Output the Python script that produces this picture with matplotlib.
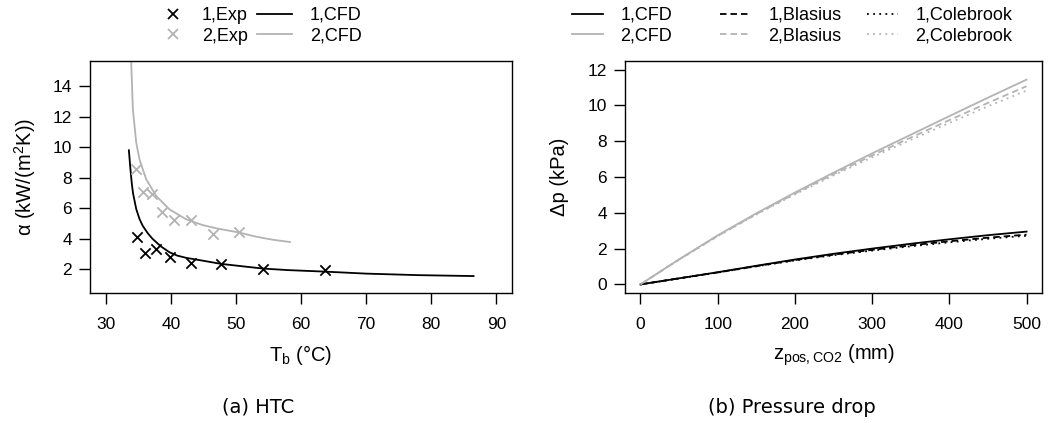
import numpy as np
import matplotlib.pyplot as plt
from matplotlib.lines import Line2D
from matplotlib.legend import Legend

plt.rcParams['font.family'] = ['Liberation Sans', 'DejaVu Sans']
plt.rcParams['mathtext.fontset'] = 'custom'
plt.rcParams['mathtext.rm'] = 'Liberation Sans'
plt.rcParams['mathtext.it'] = 'Liberation Sans'

grey = '#b3b3b3'

# (a) HTC - experiments
t_exp1 = [34.85, 36.08, 37.71, 39.96, 43.18, 47.72, 54.16, 63.66]
a_exp1 = [4.12, 3.09, 3.31, 2.81, 2.42, 2.33, 2.00, 1.96]
t_exp2 = [34.70, 35.72, 37.05, 38.63, 40.52, 43.13, 46.45, 50.43]
a_exp2 = [8.60, 7.07, 6.92, 5.78, 5.21, 5.21, 4.30, 4.47]

# (a) HTC - CFD
t_cfd1 = [33.57, 33.8, 34.0, 34.2, 34.7, 35.2, 35.7, 36.5, 37.2, 38.5, 39.8,
          41.0, 42.4, 44.9, 47.7, 51.0, 54.2, 58.0, 63.7, 70.0, 78.0, 86.5]
a_cfd1 = [9.80, 8.60, 7.70, 7.00, 5.95, 5.30, 4.85, 4.35, 4.00, 3.50, 3.12,
          2.90, 2.75, 2.57, 2.36, 2.20, 2.05, 1.95, 1.85, 1.72, 1.62, 1.56]
t_cfd2 = [33.85, 33.93, 34.18, 34.7, 35.2, 36.23, 37.76, 39.8, 42.36, 44.9,
          47.2, 50.4, 53.0, 55.5, 58.3]
a_cfd2 = [15.9, 15.5, 12.5, 10.3, 9.2, 7.9, 6.81, 5.93, 5.28, 4.90,
          4.67, 4.42, 4.15, 3.95, 3.79]

# (b) pressure drop
z = [0, 50, 100, 150, 200, 250, 300, 350, 400, 450, 500]
dp_cfd1 = [0, 0.34, 0.68, 1.04, 1.39, 1.71, 2.00, 2.27, 2.52, 2.75, 2.95]
dp_bla1 = [0, 0.34, 0.67, 1.02, 1.36, 1.66, 1.93, 2.18, 2.41, 2.61, 2.78]
dp_col1 = [0, 0.33, 0.66, 1.01, 1.34, 1.63, 1.89, 2.13, 2.35, 2.55, 2.72]
dp_cfd2 = [0, 1.40, 2.74, 3.97, 5.13, 6.24, 7.32, 8.36, 9.40, 10.43, 11.44]
dp_bla2 = [0, 1.39, 2.71, 3.93, 5.07, 6.16, 7.20, 8.20, 9.18, 10.14, 11.07]
dp_col2 = [0, 1.38, 2.69, 3.90, 5.03, 6.09, 7.10, 8.07, 9.02, 9.95, 10.83]

W, H = 1049, 423
fig = plt.figure(figsize=(W / 100, H / 100), dpi=100)
ax1 = fig.add_axes([90 / W, 1 - 293 / H, 422 / W, 232 / H])
ax2 = fig.add_axes([625 / W, 1 - 293 / H, 417 / W, 232 / H])

lw = 1.3
dash = (0, (3.6, 2.2))
dot = (0, (1, 2.4))

ax1.plot(t_cfd1, a_cfd1, color='black', lw=lw)
ax1.plot(t_cfd2, a_cfd2, color=grey, lw=lw)
ax1.scatter(t_exp1, a_exp1, marker='x', color='black', s=55, lw=1.3, zorder=3)
ax1.scatter(t_exp2, a_exp2, marker='x', color=grey, s=55, lw=1.3, zorder=3)
ax1.set_xlim(27.6, 92.4)
ax1.set_ylim(0.45, 15.65)
ax1.set_xticks(range(30, 91, 10))
ax1.set_yticks(range(2, 15, 2))
ax1.set_xlabel('T$_\\mathrm{b}$ (°C)', fontsize=14.5)
ax1.set_ylabel('α (kW/(m$^\\mathrm{2}$K))', fontsize=14.5)

ax2.plot(z, dp_cfd1, color='black', lw=lw)
ax2.plot(z, dp_cfd2, color=grey, lw=lw)
ax2.plot(z, dp_bla1, color='black', lw=lw, ls=dash)
ax2.plot(z, dp_bla2, color=grey, lw=lw, ls=dash)
ax2.plot(z, dp_col1, color='black', lw=lw, ls=dot)
ax2.plot(z, dp_col2, color=grey, lw=lw, ls=dot)
ax2.set_xlim(-20, 520)
ax2.set_ylim(-0.48, 12.48)
ax2.set_xticks(range(0, 501, 100))
ax2.set_yticks(range(0, 13, 2))
ax2.set_xlabel('z$_\\mathrm{pos,CO2}$ (mm)', fontsize=14.5)
ax2.set_ylabel('Δp (kPa)', fontsize=14.5)

ax1.xaxis.set_label_coords(0.5, -0.215)
ax2.xaxis.set_label_coords(0.5, -0.215)
ax1.yaxis.set_label_coords(-0.124, 0.5)
ax2.yaxis.set_label_coords(-0.135, 0.5)

for ax in (ax1, ax2):
    ax.tick_params(direction='out', length=8, width=1, labelsize=12.5)
    ax.tick_params(axis='x', pad=9)
    ax.tick_params(axis='y', pad=5)
    for s in ax.spines.values():
        s.set_linewidth(1)


def legend_col(ax, handles, labels, x_px, hl, pad):
    leg = Legend(ax, handles, labels, frameon=False, loc='upper left',
                 bbox_to_anchor=(x_px / W, 1 - 7 / H),
                 bbox_transform=fig.transFigure, fontsize=13,
                 handlelength=hl, handletextpad=pad, labelspacing=0.2,
                 borderpad=0, borderaxespad=0)
    ax.add_artist(leg)


mk = dict(ls='none', marker='x', ms=7, mew=1.3)
legend_col(ax1, [Line2D([], [], color='black', **mk), Line2D([], [], color=grey, **mk)],
           ['1,Exp', '2,Exp'], 155, 1.94, 0.65)
legend_col(ax1, [Line2D([], [], color='black', lw=lw), Line2D([], [], color=grey, lw=lw)],
           ['1,CFD', '2,CFD'], 257, 1.94, 1.0)
legend_col(ax2, [Line2D([], [], color='black', lw=lw), Line2D([], [], color=grey, lw=lw)],
           ['1,CFD', '2,CFD'], 572, 1.72, 0.95)
legend_col(ax2, [Line2D([], [], color='black', lw=lw, ls=dash),
                 Line2D([], [], color=grey, lw=lw, ls=dash)],
           ['1,Blasius', '2,Blasius'], 720, 1.72, 0.95)
legend_col(ax2, [Line2D([], [], color='black', lw=lw, ls=dot),
                 Line2D([], [], color=grey, lw=lw, ls=dot)],
           ['1,Colebrook', '2,Colebrook'], 867, 1.72, 0.95)

fig.text(258 / W, 1 - 407 / H, '(a) HTC', ha='center', va='center', fontsize=14,
         family='DejaVu Sans')
fig.text(792 / W, 1 - 407 / H, '(b) Pressure drop', ha='center', va='center',
         fontsize=14, family='DejaVu Sans')

fig.savefig('out.png', dpi=100)
